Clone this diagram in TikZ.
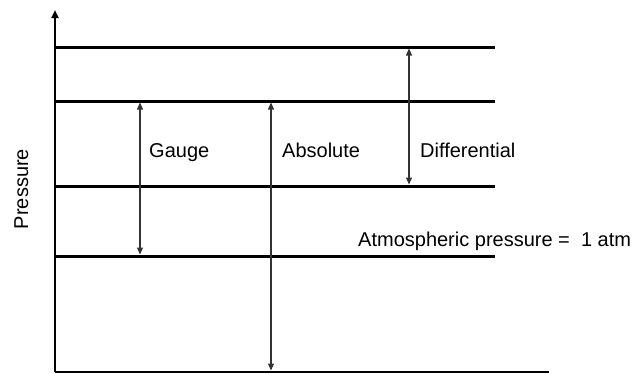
\documentclass[tikz,border=0pt]{standalone}
\usepackage{fontspec}
\setmainfont{Liberation Sans}
\usetikzlibrary{arrows.meta}
\begin{document}
\begin{tikzpicture}[x=1pt,y=-1pt,
  level/.style={line width=3pt},
  axis/.style={line width=2.6pt},
  meas/.style={line width=1.2pt,draw=black!80,{Triangle[length=7pt,width=6pt]}-{Triangle[length=7pt,width=6pt]}},
  lbl/.style={font=\fontsize{20}{24}\selectfont,inner sep=0pt}]
\useasboundingbox (0,0) rectangle (641,373);
% axes
\coordinate (o) at (55,372);
\coordinate (ytop) at (55,10);
\coordinate (xend) at (549,372);
\draw[axis,-{Triangle[length=8pt,width=7pt]}] (o) -- (ytop);
\draw[axis] (o) -- (xend);
% levels
\coordinate (l1a) at (55,47);  \coordinate (l1b) at (495,47);
\coordinate (l2a) at (55,101); \coordinate (l2b) at (495,101);
\coordinate (l3a) at (55,186); \coordinate (l3b) at (495,186);
\coordinate (l4a) at (55,256); \coordinate (l4b) at (495,256);
\draw[level] (l1a) -- (l1b);
\draw[level] (l2a) -- (l2b);
\draw[level] (l3a) -- (l3b);
\draw[level] (l4a) -- (l4b);
% measurement arrows
\coordinate (g1) at (140,102.5); \coordinate (g2) at (140,254.5);
\coordinate (a1) at (271,102.5); \coordinate (a2) at (271,370.5);
\coordinate (d1) at (409,48.5);  \coordinate (d2) at (409,184.5);
\draw[meas] (g1) -- (g2);
\draw[meas] (a1) -- (a2);
\draw[meas] (d1) -- (d2);
% labels
\node[lbl,anchor=base west] (tg) at (149,157.5) {Gauge};
\node[lbl,anchor=base west] (ta) at (282,157.5) {Absolute};
\node[lbl,anchor=base west] (td) at (420,157.5) {Differential};
\node[lbl,anchor=base west] (tatm) at (358,246) {Atmospheric pressure =~~1 atm};
\node[lbl,rotate=90,anchor=base] (tp) at (28,189) {Pressure};
\end{tikzpicture}
\end{document}
